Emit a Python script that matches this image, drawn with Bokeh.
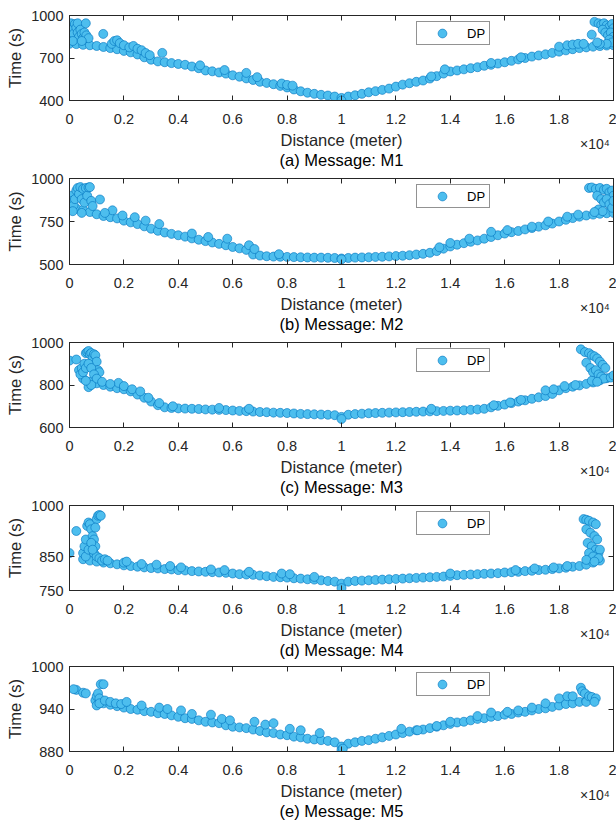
import numpy as np
from bokeh.plotting import figure
from bokeh.layouts import column
from bokeh.models import (Range1d, FixedTicker, LinearAxis, Legend, LegendItem,
                          Title, CustomJSTickFormatter, ColumnDataSource)
from bokeh.embed import file_html
from bokeh.resources import INLINE

nan = float("nan")

# distance grid (meter) of the dense band
dist = [0, 250, 500, 750, 1000, 1250, 1500, 1750, 2000, 2250, 2500, 2750, 3000, 3250, 3500, 3750,
        4000, 4250, 4500, 4750, 5000, 5250, 5500, 5750, 6000, 6250, 6500, 6750, 7000, 7250, 7500,
        7750, 8000, 8250, 8500, 8750, 9000, 9250, 9500, 9750, 10000, 10250, 10500, 10750, 11000,
        11250, 11500, 11750, 12000, 12250, 12500, 12750, 13000, 13250, 13500, 13750, 14000, 14250,
        14500, 14750, 15000, 15250, 15500, 15750, 16000, 16250, 16500, 16750, 17000, 17250, 17500,
        17750, 18000, 18250, 18500, 18750, 19000, 19250, 19500, 19750, 20000]

# ---- M1 ----
t_m1 = [800, 798, 793, 790, 785, 778, 770, 762, 750, 740,
        725, 705, 688, 676, 670, 664, 658, 652, 640, 628,
        612, 606, 598, 590, 578, 568, 556, 545, 532, 524,
        515, 503, 492, 478, 465, 455, 447, 440, 435, 428,
        418,
        428, 437, 447, 458, 466, 475, 484, 498, 512, 522,
        532, 541, 555, 572, 590, 605, 612, 620, 628, 635,
        645, 652, 661, 670, 680, 690, 700, 710, 718, 726,
        736, 745, 754, 762, 770, 775, 780, 784, 788, 790]
xe_m1 = [0, 0, 0, 20, 50, 100, 150, 200, 250, 300, 300, 350, 400, 450, 500, 550, 600, 620, 700, 120, 450,
         1240, 3410,
         1550, 1650, 1750, 1850, 2000, 2200, 2350, 2500, 2650, 2800, 2950,
         4800, 5700, 6500, 6900, 7800, 8000, 8200,
         13300, 13800, 15500, 16600,
         18000, 18300, 18500, 18700, 18900,
         19200, 19300, 19450, 19550, 19650, 19750, 19850, 19950, 20000, 19600,
         19700, 19800, 19900, 20000, 19850, 19950, 19750, 19500, 19400,
         10000]
te_m1 = [830, 860, 890, 920, 945, 900, 870, 940, 915, 945, 880, 850, 900, 870, 840, 880, 945, 860, 840, 820, 820,
         870, 736,
         800, 820, 825, 805, 790, 775, 785, 765, 755, 735, 720,
         648, 615, 595, 565, 520, 510, 505,
         570, 620, 665, 705,
         780, 790, 795, 800, 800,
         865, 955, 945, 935, 945, 930, 920, 940, 910, 900,
         880, 860, 880, 850, 830, 810, 800, 800, 810,
         400]

# ---- M2 ----
t_m2 = [830, 825, 818, 805, 792, 782, 775, 768, 755, 745,
        735, 722, 708, 696, 686, 678, 670, 662, 652, 644,
        636, 628, 620, 612, 602, 594, 585, 558, 552, 548,
        546, 545, 544, 543, 542, 541, 540, 540, 539, 538,
        535,
        538, 540, 541, 542, 544, 545, 547, 549, 551, 554,
        558, 562, 568, 578, 592, 605, 615, 624, 632, 640,
        650, 660, 670, 680, 688, 695, 704, 712, 720, 728,
        738, 750, 760, 770, 778, 785, 790, 795, 798, 800]
xe_m2 = [0, 0, 50, 100, 150, 200, 250, 300, 350, 400, 450, 500, 550, 600, 650, 700, 750, 800, 850, 120, 450,
         1120, 1580,
         1300, 1950, 2400, 2800, 3300, 4500, 5100, 5800, 6600, 6800, 7700,
         13600, 14000, 14700, 15500, 16100, 17000, 17600, 18300, 18700,
         19100, 19200, 19350, 19500, 19650, 19750, 19850, 19950, 20000, 19400,
         19550, 19650, 19750, 19850, 19950, 20000, 19450, 19600, 19300,
         10000]
te_m2 = [860, 890, 900, 870, 845, 880, 930, 945, 910, 950, 880, 940, 860, 945, 900, 948, 950, 870, 840, 810, 800,
         878, 815,
         800, 785, 775, 755, 735, 680, 660, 650, 612, 590, 560,
         600, 625, 650, 690, 700, 720, 750, 778, 790,
         945, 948, 940, 945, 935, 940, 920, 930, 900, 900,
         880, 860, 880, 850, 830, 870, 820, 810, 805,
         530]

# ---- M3 ----
t_m3 = [915, 920, 830, 815, 808, 800, 792, 785, 780, 770,
        755, 740, 722, 705, 695, 692, 690, 689, 688, 687,
        685, 684, 683, 682, 680, 678, 677, 675, 673, 672,
        670, 669, 668, 666, 664, 663, 662, 661, 660, 658,
        650,
        660, 663, 665, 667, 668, 669, 670, 671, 672, 673,
        674, 675, 676, 677, 678, 679, 680, 681, 683, 685,
        688, 695, 702, 708, 715, 722, 728, 735, 742, 748,
        758, 775, 785, 792, 798, 805, 812, 822, 832, 840]
xe_m3 = [350, 400, 450, 500, 550, 600, 650, 700, 750, 800, 850, 900, 950, 1000, 1050, 1100,
         600, 700, 800, 900, 1000, 700, 800, 1200, 600,
         1800, 1500, 2000, 2300, 2600, 2900, 3300, 3800, 5500, 6600,
         13300, 15600, 16200, 16600, 17500, 17800, 18200, 18600,
         18800, 18950, 19100, 19200, 19300, 19400, 19500, 19600, 19700, 19000,
         19150, 19250, 19350, 19450, 19550, 19650, 19900, 20000, 19200, 19400,
         10000]
te_m3 = [870, 850, 880, 860, 900, 950, 955, 960, 945, 950, 930, 945, 940, 910, 870, 860,
         880, 900, 880, 850, 830, 790, 800, 815, 820,
         810, 805, 795, 780, 770, 740, 715, 700, 692, 688,
         688, 705, 718, 730, 775, 780, 795, 800,
         968, 955, 950, 940, 935, 925, 910, 895, 880, 905,
         880, 860, 870, 850, 840, 830, 835, 845, 820, 815,
         640]

# ---- M4 ----
t_m4 = [860, 925, 842, 838, 835, 832, 830, 827, 824, 822,
        820, 818, 816, 815, 813, 812, 810, 809, 807, 806,
        805, 804, 803, 802, 800, 798, 797, 796, 794, 792,
        790, 789, 788, 786, 785, 783, 782, 780, 778, 776,
        770,
        776, 778, 779, 780, 781, 782, 783, 784, 785, 786,
        787, 788, 789, 790, 791, 793, 795, 796, 797, 798,
        799, 800, 801, 803, 804, 805, 807, 808, 810, 811,
        813, 815, 817, 820, 822, 826, 832, 838, nan, nan]
xe_m4 = [500, 550, 600, 650, 700, 750, 800, 850, 900, 950, 1000, 1050, 1100, 1150,
         600, 700, 800, 900, 1000, 1100, 1200, 850, 950, 1300,
         1400, 2000, 2100, 2650, 3200, 3700, 4100, 5200, 5700, 6600, 7800, 8100, 9000,
         14000, 16400, 17100, 17800, 18300,
         18900, 19000, 19100, 19250, 19350, 19000, 19150, 19300, 19400, 19050,
         19200, 19350, 19450, 19500, 19100, 19250, 19450, 19000, 19300,
         10000]
te_m4 = [860, 880, 900, 940, 950, 945, 930, 910, 900, 880, 960, 970, 972, 970,
         850, 870, 890, 860, 850, 845, 838, 870, 935, 842,
         838, 832, 835, 828, 826, 822, 818, 812, 810, 805, 800, 798, 790,
         800, 810, 815, 818, 822,
         960, 958, 955, 950, 945, 930, 920, 910, 900, 890,
         880, 870, 860, 870, 860, 850, 845, 840, 835,
         757]

# ---- M5 ----
t_m5 = [nan, 967, 963, nan, 950, 948, 946, 944, 942, 940,
        939, 937, 936, 934, 933, 931, 929, 927, 926, 924,
        922, 921, 920, 917, 915, 914, 913, 911, 909, 907,
        906, 904, 903, 901, 900, 898, 897, 896, 895, 893,
        887,
        891, 893, 895, 896, 898, 900, 902, 904, 906, 908,
        910, 911, 913, 915, 917, 919, 921, 922, 924, 926,
        927, 929, 930, 932, 933, 935, 936, 938, 940, 941,
        943, 945, 947, 948, 950, 952, 955, nan, nan, nan]
xe_m5 = [150, 600, 950, 1000, 1050, 1100, 1150, 1250, 1000, 1100,
         1300, 1500, 1700, 1900, 2100, 2650, 3300, 3600, 4100, 4500,
         5200, 5600, 5900, 6800, 7200, 7500, 8100, 8500, 9200, 10000, 10050,
         12200, 12800, 13500, 14000, 15000, 15500, 16100, 16500, 17000, 17500,
         18000, 18300, 18500, 18800, 18850, 18950, 19000, 19100, 19200, 19350, 19300]
te_m5 = [968, 962, 952, 958, 962, 955, 975, 975, 945, 948,
         952, 950, 948, 947, 950, 945, 942, 940, 938, 933,
         932, 926, 924, 922, 918, 920, 912, 910, 906, 882, 884,
         912, 910, 916, 922, 930, 935, 936, 938, 942, 948,
         955, 958, 958, 970, 965, 962, 950, 958, 957, 955, 950]

captions = ["(a) Message: M1", "(b) Message: M2", "(c) Message: M3", "(d) Message: M4", "(e) Message: M5"]
y_ranges = [(400, 1000), (500, 1000), (600, 1000), (750, 1000), (880, 1000)]
y_ticks = [[400, 700, 1000], [500, 750, 1000], [600, 800, 1000], [750, 850, 1000], [880, 940, 1000]]
x_ticks = [0, 2000, 4000, 6000, 8000, 10000, 12000, 14000, 16000, 18000, 20000]
x_range = (0, 20000)
grid_times = [t_m1, t_m2, t_m3, t_m4, t_m5]
extra_x = [xe_m1, xe_m2, xe_m3, xe_m4, xe_m5]
extra_t = [te_m1, te_m2, te_m3, te_m4, te_m5]

FONT = "Liberation Sans"
AX = "#262626"
FILL = "#4DBEEE"
EDGE = "#0072BD"
W = 616
LEFT, RIGHT = 69, 3
FW = W - LEFT - RIGHT
# (top border, frame height, bottom border) per panel; sums to the 822 px page
geom = [(15, 85, 70), (8, 86, 70), (8, 85, 70), (8, 85, 70), (6, 85, 71)]


def style_axis(ax, ticks, labels=True):
    ax.ticker = FixedTicker(ticks=ticks)
    ax.axis_line_color = AX
    ax.axis_line_width = 1
    ax.major_tick_line_color = AX
    ax.major_tick_line_width = 1
    ax.major_tick_in = 5
    ax.major_tick_out = 0
    ax.minor_tick_line_color = None
    ax.major_label_text_font = FONT
    ax.major_label_text_color = AX
    if labels:
        ax.major_label_text_font_size = "14.5px"
        ax.major_label_standoff = 6
    else:
        ax.major_label_text_font_size = "0px"
        ax.major_label_text_color = None
        ax.major_label_standoff = 0
        ax.axis_label = None


figs = []
for i in range(5):
    tb, fh, bb = geom[i]
    p = figure(width=W, height=tb + fh + bb,
               min_border_left=LEFT, min_border_right=RIGHT,
               min_border_top=tb, min_border_bottom=bb,
               x_range=Range1d(*x_range), y_range=Range1d(*y_ranges[i]),
               output_backend="svg", toolbar_location=None)
    p.xgrid.visible = False
    p.ygrid.visible = False
    p.outline_line_color = AX
    p.outline_line_width = 1
    p.background_fill_color = "white"
    p.border_fill_color = "white"

    xa = p.xaxis[0]
    style_axis(xa, x_ticks)
    xa.major_label_standoff = 13
    xa.formatter = CustomJSTickFormatter(code="return (tick/10000).toString();")
    xa.axis_label = "Distance (meter)"
    ya = p.yaxis[0]
    style_axis(ya, y_ticks[i])
    ya.axis_label = "Time (s)"
    for ax in (xa, ya):
        ax.axis_label_text_font = FONT
        ax.axis_label_text_font_size = "16.5px"
        ax.axis_label_text_font_style = "normal"
        ax.axis_label_text_color = AX
    xa.axis_label_standoff = 4
    ya.axis_label_standoff = 4

    top = LinearAxis()
    style_axis(top, x_ticks, labels=False)
    p.add_layout(top, "above")
    right = LinearAxis()
    style_axis(right, y_ticks[i], labels=False)
    p.add_layout(right, "right")

    # exponent of the distance axis, drawn as a label-only axis in the axis-label row
    mult_pos = x_range[1] * 0.966
    mult = LinearAxis(ticker=FixedTicker(ticks=[mult_pos]),
                      formatter=CustomJSTickFormatter(code="return '\u00d710\u2074';"))
    mult.axis_line_color = None
    mult.major_tick_line_color = None
    mult.minor_tick_line_color = None
    mult.major_tick_in = 0
    mult.major_tick_out = 0
    mult.major_label_standoff = -16
    mult.major_label_text_font = FONT
    mult.major_label_text_font_size = "14px"
    mult.major_label_text_color = AX
    p.add_layout(mult, "below")

    xs = np.array(dist + extra_x[i], dtype=float)
    ts = np.array(grid_times[i] + extra_t[i], dtype=float)
    n = min(len(xs), len(ts))
    src = ColumnDataSource(dict(x=xs[:n], y=ts[:n]))
    r = p.scatter("x", "y", source=src, size=9, marker="circle",
                  fill_color=FILL, line_color=EDGE, line_width=0.6)

    leg = Legend(items=[LegendItem(label="DP", renderers=[r])], location=(347, fh - 30),
                 padding=0, spacing=0, margin=0, glyph_width=50, glyph_height=22,
                 label_height=22, label_width=22, label_standoff=0,
                 border_line_color=AX, border_line_width=1,
                 background_fill_color="white", background_fill_alpha=1,
                 label_text_font=FONT, label_text_font_size="13px", label_text_color="black")
    p.add_layout(leg)

    p.add_layout(Title(text=captions[i], align="center", vertical_align="top",
                       text_font=FONT, text_font_size="16.5px",
                       text_font_style="normal", text_color="black", standoff=-8), "below")
    figs.append(p)

layout = column(*figs, spacing=0)
open("out.html", "w").write(file_html(layout, INLINE))
